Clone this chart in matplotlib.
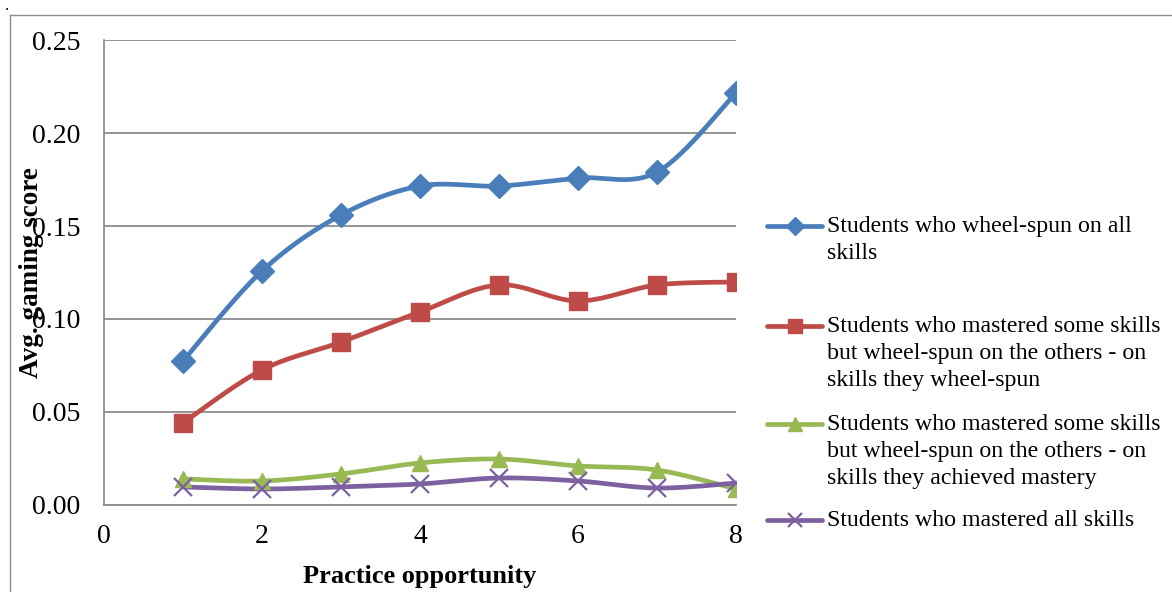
import matplotlib.pyplot as plt
import numpy as np
from matplotlib.lines import Line2D

plt.rcParams['font.family'] = ['Liberation Serif', 'DejaVu Serif']

opportunity = [1, 2, 3, 4, 5, 6, 7, 8]
wheelspun_all = [0.0774, 0.1258, 0.1559, 0.1715, 0.1715, 0.1758, 0.1790, 0.2215]
mixed_wheelspun = [0.0441, 0.0726, 0.0876, 0.1038, 0.1183, 0.1097, 0.1183, 0.1199]
mixed_mastered = [0.0140, 0.0129, 0.0167, 0.0226, 0.0247, 0.0210, 0.0188, 0.0086]
mastered_all = [0.0097, 0.0086, 0.0097, 0.0113, 0.0145, 0.0129, 0.0091, 0.0118]

labels = [
    "Students who wheel-spun on all\nskills",
    "Students who mastered some skills\nbut wheel-spun on the others - on\nskills they wheel-spun",
    "Students who mastered some skills\nbut wheel-spun on the others - on\nskills they achieved mastery",
    "Students who mastered all skills",
]
colors = ["#4A7EBB", "#BE4B48", "#98B954", "#7D60A0"]
markers = ["D", "s", "^", "x"]
msizes = [12, 13, 12, 13]


def smooth(x, y, steps=30):
    # Catmull-Rom curve through the points, like a smoothed line in a spreadsheet
    x = np.asarray(x, float)
    y = np.asarray(y, float)
    px = np.concatenate([[x[0]], x, [x[-1]]])
    py = np.concatenate([[y[0]], y, [y[-1]]])
    xs, ys = [], []
    t = np.linspace(0, 1, steps)
    for i in range(1, len(px) - 2):
        x0, x1, x2, x3 = px[i - 1:i + 3]
        y0, y1, y2, y3 = py[i - 1:i + 3]
        c1x, c1y = x1 + (x2 - x0) / 6, y1 + (y2 - y0) / 6
        c2x, c2y = x2 - (x3 - x1) / 6, y2 - (y3 - y1) / 6
        b = [(1 - t) ** 3, 3 * (1 - t) ** 2 * t, 3 * (1 - t) * t ** 2, t ** 3]
        xs.append(b[0] * x1 + b[1] * c1x + b[2] * c2x + b[3] * x2)
        ys.append(b[0] * y1 + b[1] * c1y + b[2] * c2y + b[3] * y2)
    return np.concatenate(xs), np.concatenate(ys)


fig = plt.figure(figsize=(11.72, 5.92), dpi=100)
ax = fig.add_axes([0.0887, 0.147, 0.5393, 0.7854])

series = [wheelspun_all, mixed_wheelspun, mixed_mastered, mastered_all]
for vals, c, m, ms in zip(series, colors, markers, msizes):
    sx, sy = smooth(opportunity, vals)
    ax.plot(sx, sy, color=c, lw=3.4, solid_capstyle="round", zorder=3)
    ax.plot(opportunity, vals, ls="none", marker=m, ms=ms, color=c,
            mec=c, mew=1.6 if m == "x" else 1, zorder=4)

ax.set_xlim(0, 8)
ax.set_ylim(0, 0.25)
ax.set_xticks([0, 2, 4, 6, 8])
ax.set_yticks(np.arange(0, 0.26, 0.05))
ax.set_yticklabels([f"{v:.2f}" for v in np.arange(0, 0.26, 0.05)])
ax.tick_params(length=0, labelsize=20)
ax.tick_params(axis="x", pad=14)
ax.tick_params(axis="y", pad=17)
ax.yaxis.grid(True, color="#8C8C8C", lw=1.3)
for s in ["top", "right"]:
    ax.spines[s].set_visible(False)
for s in ["left", "bottom"]:
    ax.spines[s].set_color("#8C8C8C")
    ax.spines[s].set_linewidth(1.3)

fig.text(0.3585, 0.026, "Practice opportunity", ha="center", va="center",
         fontsize=19, fontweight="bold")
fig.text(0.0273, 0.54, "Avg. gaming score", ha="center", va="center",
         rotation=90, fontsize=19.5, fontweight="bold")

# legend drawn by hand so the handle sits on the first text line
W, H = 1172, 592
entry_y = [226, 326, 424, 520]
for lab, c, m, ms, yp in zip(labels, colors, markers, msizes, entry_y):
    fy = 1 - yp / H
    fig.add_artist(Line2D([767 / W, 822 / W], [fy, fy], color=c, lw=3.4,
                          solid_capstyle="round"))
    fig.add_artist(Line2D([794.5 / W], [fy], ls="none", marker=m,
                          ms=ms * 0.8, color=c, mec=c,
                          mew=1.6 if m == "x" else 1))
    fig.text(827 / W, fy + 10 / H, lab, ha="left", va="top", fontsize=17.2,
             linespacing=1.36)

# outer chart border
fig.add_artist(Line2D([10 / W, 1], [1 - 15 / H, 1 - 15 / H], color="#8C8C8C", lw=1))
fig.add_artist(Line2D([10 / W, 10 / W], [0, 1 - 15 / H], color="#8C8C8C", lw=1))
fig.text(5 / W, 1 - 6 / H, ".", fontsize=12, ha="left", va="center")

fig.savefig("out.png", dpi=100)
